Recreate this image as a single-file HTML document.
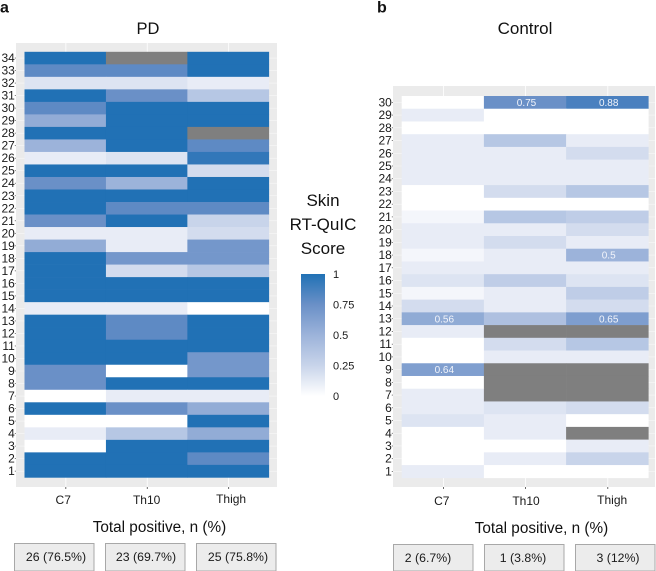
<!DOCTYPE html>
<html>
<head>
<meta charset="utf-8">
<style>
html,body{margin:0;padding:0;background:#fff;width:656px;height:571px;overflow:hidden}
svg{display:block;font-family:"Liberation Sans",Arial,sans-serif}
</style>
</head>
<body>
<svg id="chart" width="656" height="571" viewBox="0 0 656 571" xmlns="http://www.w3.org/2000/svg">
  <text x="0" y="12.5" font-size="16" font-weight="bold" fill="#111">a</text>
  <text x="377" y="12.5" font-size="16" font-weight="bold" fill="#111">b</text>
  <text x="148" y="34" font-size="16.5" text-anchor="middle" fill="#111">PD</text>
  <text x="525" y="34" font-size="17" text-anchor="middle" fill="#111">Control</text>
  <text x="159.5" y="532" font-size="15.3" text-anchor="middle" fill="#111">Total positive, n (%)</text>
  <text x="541.5" y="533" font-size="15.3" text-anchor="middle" fill="#111">Total positive, n (%)</text>
  <text x="323" y="206" font-size="17" text-anchor="middle" fill="#111">Skin</text>
  <text x="323" y="230" font-size="17" text-anchor="middle" fill="#111">RT-QuIC</text>
  <text x="323" y="254" font-size="17" text-anchor="middle" fill="#111">Score</text>
  <defs>
    <linearGradient id="legendGrad" x1="0" y1="0" x2="0" y2="1">
      <stop offset="0" stop-color="#2171b5"/>
      <stop offset="0.25" stop-color="#6a90c7"/>
      <stop offset="0.5" stop-color="#9cb3da"/>
      <stop offset="0.75" stop-color="#c8d4ea"/>
      <stop offset="1" stop-color="#ffffff"/>
    </linearGradient>
  </defs>
  <rect x="301" y="274" width="24" height="122" fill="url(#legendGrad)"/>
  <g id="layer"></g>
</svg>
<script>
const columns = ["C7", "Th10", "Thigh"];
// rows listed from the top row downward; null = not available (grey)
const pdRows = [34,33,32,31,30,29,28,27,26,25,24,23,22,21,20,19,18,17,16,15,14,13,12,11,10,9,8,7,6,5,4,3,2,1];
const pdC7 = [1,.8,.15,1,.8,.55,1,.5,.1,1,.75,1,1,.75,.1,.55,1,1,1,1,.1,1,1,1,1,.75,.75,0,1,0,.1,0,1,1];
const pdTh10 = [null,.8,.15,.75,1,1,1,1,.15,1,.5,1,.8,1,.1,.1,.7,.2,1,1,.1,.8,.8,1,1,0,1,.1,.75,0,.35,1,1,1];
const pdThigh = [1,1,.1,.35,1,1,null,.8,.95,.2,1,1,.8,.25,.2,.7,.7,.35,1,1,0,1,1,1,.7,.7,1,.1,.55,1,.55,1,.8,1];
const ctlRows = [30,29,28,27,26,25,24,23,22,21,20,19,18,17,16,15,14,13,12,11,10,9,8,7,6,5,4,3,2,1];
const ctlC7 = [0,.1,0,.1,.1,.1,.1,0,0,.05,.1,.1,.05,.1,.15,.05,.2,.56,.1,0,0,.64,0,.1,.1,.15,0,0,0,.1];
const ctlTh10 = [.75,0,0,.35,.1,.1,.1,.2,0,.35,.1,.2,.1,.1,.3,.1,.1,.4,null,.2,.1,null,null,null,.15,.1,.1,0,.1,0];
const ctlThigh = [.88,0,0,.1,.2,.1,.1,.35,0,.3,.2,.1,.5,.1,.15,.3,.2,.65,null,.35,.1,null,null,null,.2,0,null,.1,.25,0];
const legendTicks = [1, 0.75, 0.5, 0.25, 0];
const pdTotals = ["26 (76.5%)", "23 (69.7%)", "25 (75.8%)"];
const ctlTotals = ["2 (6.7%)", "1 (3.8%)", "3 (12%)"];

const NS = "http://www.w3.org/2000/svg";
const layer = document.getElementById("layer");
function mk(tag, attrs, text) {
  const el = document.createElementNS(NS, tag);
  for (const k in attrs) el.setAttribute(k, attrs[k]);
  if (text !== undefined) el.textContent = text;
  layer.appendChild(el);
  return el;
}
const stops = [[0,[255,255,255]],[.1,[232,236,246]],[.25,[200,212,234]],[.5,[156,179,218]],[.75,[106,144,199]],[.88,[74,128,191]],[1,[33,113,181]]];
function color(v) {
  if (v === null) return "#7f7f7f";
  for (let i = 1; i < stops.length; i++) {
    if (v <= stops[i][0]) {
      const a = stops[i-1], b = stops[i], t = (v - a[0]) / (b[0] - a[0]);
      const c = a[1].map((x, j) => Math.round(x + (b[1][j] - x) * t));
      return "rgb(" + c.join(",") + ")";
    }
  }
  return "#2171b5";
}
function drawPanel(name, cfg, rows, series, totals) {
  const colW = (cfg.cellR - cfg.cellL) / columns.length;
  const rowH = (cfg.cellB - cfg.cellT) / rows.length;
  const xc = i => cfg.cellL + colW * (i + 0.5);
  const yt = i => cfg.cellT + rowH * i;

  const bg = mk("rect", {x: cfg.bgL, y: cfg.bgT, width: cfg.bgR - cfg.bgL, height: cfg.bgB - cfg.bgT, fill: "#ebebeb"});
  
  

  rows.forEach((r, i) => {
    const g = mk("line", {x1: cfg.bgL, x2: cfg.bgR, y1: yt(i) + rowH / 2, y2: yt(i) + rowH / 2, stroke: "#f8f8f8", "stroke-width": 0.6});
    
    
  });
  columns.forEach((c, i) => {
    const g = mk("line", {x1: xc(i) + 0.6, x2: xc(i) + 0.6, y1: cfg.bgT, y2: cfg.bgB, stroke: "#fff", "stroke-width": 0.8});
    
    
  });

  rows.forEach((r, i) => {
    series.forEach((s, j) => {
      const cell = mk("rect", {x: cfg.cellL + colW * j, y: yt(i), width: colW + 0.3, height: rowH + 0.3, fill: color(s[i])});
      
      
    });
  });
  if (cfg.annotate) {
    rows.forEach((r, i) => {
      series.forEach((s, j) => {
        if (s[i] !== null && s[i] >= 0.5) {
          const t = mk("text", {x: xc(j) + 1.5, y: yt(i) + rowH / 2 + 3.6, "font-size": 10, "text-anchor": "middle", fill: "#f2f4fa"}, String(s[i]));
          
          
        }
      });
    });
  }
  rows.forEach((r, i) => {
    const y = yt(i) + rowH / 2;
    const t = mk("text", {x: cfg.bgL - 1.2, y: y + 4, "font-size": 12, "text-anchor": "end", fill: "#1a1a1a"}, String(r));
    
    
    const m = mk("line", {x1: cfg.bgL - 1.2, x2: cfg.bgL, y1: y, y2: y, stroke: "#555", "stroke-width": 0.7});
    
    
  });
  columns.forEach((c, i) => {
    const m = mk("line", {x1: xc(i) + 0.6, x2: xc(i) + 0.6, y1: cfg.bgB, y2: cfg.bgB + 2, stroke: "#444", "stroke-width": 0.8});
    
    
    const t = mk("text", {x: xc(i) + cfg.labelShift[i], y: cfg.labelY[i], "font-size": 12, "text-anchor": "middle", fill: "#1a1a1a"}, c);
    
    
  });
  totals.forEach((label, i) => {
    const b = mk("rect", {x: cfg.boxX[i] + 0.5, y: cfg.boxT + 0.5, width: 79.5, height: 570.5 - cfg.boxT, fill: "#ececec", stroke: "#a8a8a8", "stroke-width": 1});
    
    
    const t = mk("text", {x: cfg.boxText[i], y: cfg.boxBase, "font-size": 12.3, "text-anchor": "middle", fill: "#1a1a1a"}, label);
    
    
  });
}
drawPanel("pd", {
  bgL: 16, bgR: 277, bgT: 43, bgB: 487,
  cellL: 24.5, cellR: 268.8, cellT: 51.8, cellB: 477.4,
  annotate: false, labelShift: [-2, 0, 3], labelY: [504, 504, 503],
  boxX: [14, 105, 196], boxT: 543, boxText: [56, 146, 238], boxBase: 561
}, pdRows, [pdC7, pdTh10, pdThigh], pdTotals);
drawPanel("control", {
  bgL: 393, bgR: 655, bgT: 86, bgB: 487,
  cellL: 401.7, cellR: 648.3, cellT: 96, cellB: 477.8,
  annotate: true, labelShift: [-1, 1, 5], labelY: [505, 505, 504],
  boxX: [393, 484, 575], boxT: 544, boxText: [428, 523, 618], boxBase: 562
}, ctlRows, [ctlC7, ctlTh10, ctlThigh], ctlTotals);

legendTicks.forEach(v => {
  const y = 274 + (1 - v) * 122;
  const t = mk("text", {x: 333, y: y + 4, "font-size": 11, fill: "#1a1a1a"}, String(v));
  
  
});
</script>
</body>
</html>
